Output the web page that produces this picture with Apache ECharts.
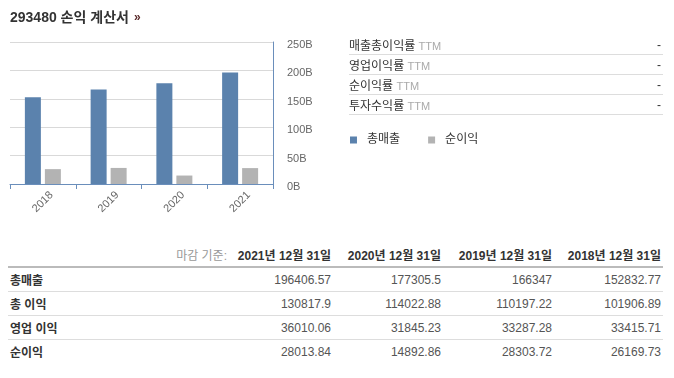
<!DOCTYPE html>
<html>
<head>
<meta charset="utf-8">
<script src="https://cdn.jsdelivr.net/npm/echarts@6/dist/echarts.min.js"></script>
<style>
  body { margin: 0; background: #fff; font-family: Arial, "Liberation Sans", "Noto Sans CJK KR", sans-serif; color: #333; }
  #page { position: relative; width: 674px; height: 378px; overflow: hidden; }
  #chart { position: absolute; left: 0; top: 0; width: 674px; height: 225px; }
  /* 오른쪽 비율 표 */
  #ratios { position: absolute; left: 349px; top: 35px; width: 314px; border-collapse: collapse; font-size: 12px; }
  #ratios td { height: 19px; padding: 0; border-bottom: 1px solid #ddd; color: #333; }
  #ratios td.v { text-align: right; padding-right: 2px; }
  #ratios .ttm { color: #aaa; font-size: 11px; }
  /* 아래 손익 표 */
  #fin { position: absolute; left: 8px; top: 242px; width: 655px; border-collapse: collapse; table-layout: fixed; font-size: 12px; }
  #fin th { height: 24px; padding: 0 2px; text-align: right; font-weight: bold; color: #333; border-bottom: 2px solid #bbb; white-space: nowrap; }
  #fin th.lab { font-weight: normal; color: #999; padding-right: 6px; }
  #fin td { height: 23px; padding: 0 2px; text-align: right; color: #555; border-bottom: 1px solid #ddd; }
  #fin td.lab { text-align: left; font-weight: bold; color: #333; font-size: 12px; }
  #fin tr:last-child td { border-bottom: none; }
</style>
</head>
<body>
<div id="page">
  <div id="chart"></div>
  <table id="ratios"></table>
  <table id="fin"></table>
</div>
<script>
// 차트 데이터 (단위: B)
var years = ['2018', '2019', '2020', '2021'];
var revenue = [152.83, 166.35, 177.31, 196.41];
var netIncome = [26.17, 28.30, 14.89, 28.01];

// 비율 표
var ratioNames = ['매출총이익률', '영업이익률', '순이익률', '투자수익률'];
var ratioValues = ['-', '-', '-', '-'];

// 손익 표 (단위: 백만)
var dateHeaders = ['2021년 12월 31일', '2020년 12월 31일', '2019년 12월 31일', '2018년 12월 31일'];
var rowNames = ['총매출', '총 이익', '영업 이익', '순이익'];
var rowRevenue = ['196406.57', '177305.5', '166347', '152832.77'];
var rowGross = ['130817.9', '114022.88', '110197.22', '101906.89'];
var rowOperating = ['36010.06', '31845.23', '33287.28', '33415.71'];
var rowNet = ['28013.84', '14892.86', '28303.72', '26169.73'];

var fontFamily = 'Arial, "Liberation Sans", "Noto Sans CJK KR", sans-serif';

var myChart = echarts.init(document.getElementById('chart'));
var option = {
  animation: false,
  textStyle: { fontFamily: fontFamily },
  title: {
    left: 10,
    top: 9,
    padding: 0,
    text: '{a|293480 손익 계산서} {b|»}',
    textStyle: {
      rich: {
        a: { fontSize: 14, fontWeight: 'bold', color: '#333', fontFamily: fontFamily },
        b: { fontSize: 12, color: '#5a2a2a', fontFamily: fontFamily }
      }
    }
  },
  legend: {
    left: 350,
    top: 134,
    padding: 0,
    // 사각형 + 글자 사이 여백 (오른쪽 점은 거의 안 보임)
    icon: 'path://M0,0H7V7H0ZM12,0H12.05V0.05H12Z',
    itemWidth: 12,
    itemHeight: 7,
    itemGap: 28,
    textStyle: { fontSize: 12, color: '#333' },
    data: ['총매출', '순이익']
  },
  grid: { left: 10, top: 42, width: 263, height: 142 },
  xAxis: {
    type: 'category',
    data: years,
    axisLine: { lineStyle: { color: '#6a8ebb', width: 1 } },
    axisTick: { show: true, length: 5, lineStyle: { color: '#6a8ebb' } },
    axisLabel: { rotate: 45, align: 'center', verticalAlign: 'middle', margin: 18, fontSize: 11, color: '#666' }
  },
  yAxis: {
    type: 'value',
    position: 'right',
    min: 0,
    max: 250,
    interval: 50,
    axisLine: { show: true, lineStyle: { color: '#6a8ebb' } },
    axisTick: { show: false },
    axisLabel: {
      margin: 14,
      formatter: function (v) { return '{v|' + v + 'B}'; },
      rich: { v: { fontSize: 11, color: '#666', padding: [6, 0, 0, 0], fontFamily: fontFamily } }
    },
    splitLine: { lineStyle: { color: '#d9d9d9' } }
  },
  series: [
    {
      name: '총매출',
      type: 'bar',
      data: revenue,
      barWidth: 16,
      barGap: '25%',
      itemStyle: { color: '#5b82ad' }
    },
    {
      name: '순이익',
      type: 'bar',
      data: netIncome,
      barWidth: 16,
      itemStyle: { color: '#b3b3b3' }
    }
  ]
};
myChart.setOption(option);

// 비율 표 만들기
var ratioHtml = '';
for (var i = 0; i < ratioNames.length; i++) {
  ratioHtml += '<tr><td>' + ratioNames[i] + ' <span class="ttm">TTM</span></td><td class="v">' + ratioValues[i] + '</td></tr>';
}
document.getElementById('ratios').innerHTML = ratioHtml;

// 손익 표 만들기
var rows = [rowRevenue, rowGross, rowOperating, rowNet];
var finHtml = '<colgroup><col style="width:225px"><col style="width:100px"><col style="width:110px"><col style="width:111px"><col style="width:109px"></colgroup>';
finHtml += '<tr><th class="lab">마감 기준:</th>';
for (var j = 0; j < dateHeaders.length; j++) finHtml += '<th>' + dateHeaders[j] + '</th>';
finHtml += '</tr>';
for (var r = 0; r < rows.length; r++) {
  finHtml += '<tr><td class="lab">' + rowNames[r] + '</td>';
  for (var c = 0; c < rows[r].length; c++) finHtml += '<td>' + rows[r][c] + '</td>';
  finHtml += '</tr>';
}
document.getElementById('fin').innerHTML = finHtml;
</script>
</body>
</html>
